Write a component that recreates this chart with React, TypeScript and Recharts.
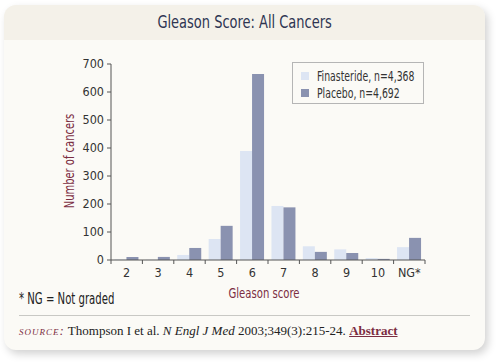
import React from "react";
import { BarChart, Bar, XAxis, YAxis } from "recharts";

const scores = ["2", "3", "4", "5", "6", "7", "8", "9", "10", "NG*"];
const finasteride = [2, 1, 18, 75, 389, 193, 49, 38, 7, 46];
const placebo = [11, 11, 43, 122, 664, 188, 29, 25, 4, 79];
const yTicks = [0, 100, 200, 300, 400, 500, 600, 700];

const data = scores.map((s, i) => ({ score: s, finasteride: finasteride[i], placebo: placebo[i] }));

const SANS = "'DejaVu Sans', sans-serif";
const SERIF = "'Liberation Serif', serif";
const MAROON = "#7b2d42";
const LIGHT = "#dde5f3";
const DARK = "#8a92b0";
const AXIS = "#555";
const narrow: React.CSSProperties = { fontFamily: SANS, fontStretch: "condensed" };

const XTick = (props: any) => {
  const { x, y, payload, index } = props;
  const off = payload?.offset ?? 15.7;
  return (
    <g>
      <line x1={x - off} y1={y} x2={x - off} y2={y + 4} stroke={AXIS} />
      {index === scores.length - 1 && <line x1={x + off} y1={y} x2={x + off} y2={y + 4} stroke={AXIS} />}
      <text x={x} y={y + 17} textAnchor="middle" fontSize={12.5} fill="#333" style={narrow}>
        {payload.value}
      </text>
    </g>
  );
};

export default function App() {
  return (
    <div style={{ position: "absolute", left: 0, top: 0, width: 500, height: 364, background: "#fff" }}>
      <div
        style={{
          position: "absolute",
          left: 4,
          top: 5,
          width: 481,
          height: 345,
          borderRadius: 12,
          background: "#fbfaf6",
          boxShadow: "3px 4px 8px rgba(0,0,0,0.18)",
          overflow: "hidden",
        }}
      >
        <div
          style={{
            ...narrow,
            height: 35,
            background: "#f4f1e9",
            color: "#2e3552",
            fontSize: 17,
            textAlign: "center",
            lineHeight: "35px",
          }}
        >
          <span style={{ display: "inline-block", transform: "scaleX(0.85)" }}>Gleason Score: All Cancers</span>
        </div>
      </div>

      <div style={{ position: "absolute", left: 0, top: 0 }}>
        <BarChart
          width={500}
          height={364}
          data={data}
          margin={{ top: 64, right: 75, bottom: 74, left: 61 }}
          barCategoryGap="11%"
          barGap={0}
        >
          <XAxis
            dataKey="score"
            height={30}
            stroke={AXIS}
            tickLine={false}
            tickSize={0}
            tickMargin={0}
            interval={0}
            tick={<XTick />}
          />
          <YAxis
            width={50}
            domain={[0, 700]}
            ticks={yTicks}
            interval={0}
            stroke={AXIS}
            tickSize={4}
            tickMargin={3}
            tick={{ fontSize: 12.5, fill: "#333", style: narrow }}
          />
          <Bar dataKey="finasteride" fill={LIGHT} isAnimationActive={false} />
          <Bar dataKey="placebo" fill={DARK} isAnimationActive={false} />
        </BarChart>
      </div>

      <div
        style={{
          ...narrow,
          position: "absolute",
          left: 69,
          top: 161,
          transform: "translate(-50%, -50%) rotate(-90deg) scaleX(0.79)",
          whiteSpace: "nowrap",
          fontSize: 14,
          color: MAROON,
        }}
      >
        Number of cancers
      </div>

      <div
        style={{
          ...narrow,
          position: "absolute",
          left: 264,
          top: 293,
          transform: "translate(-50%, -50%) scaleX(0.8)",
          whiteSpace: "nowrap",
          fontSize: 14,
          color: MAROON,
        }}
      >
        Gleason score
      </div>

      <div
        style={{
          ...narrow,
          position: "absolute",
          left: 292,
          top: 62,
          width: 130,
          height: 40,
          border: "1px solid #b5b5b5",
          background: "#fbfaf6",
          fontSize: 14,
          color: "#333",
          whiteSpace: "nowrap",
        }}
      >
        {[
          { label: "Finasteride, n=4,368", color: LIGHT },
          { label: "Placebo, n=4,692", color: DARK },
        ].map((e, i) => (
          <div key={i} style={{ position: "absolute", left: 8, top: 4 + i * 17, height: 17, display: "flex", alignItems: "center" }}>
            <span style={{ width: 8, height: 8, background: e.color, display: "inline-block", marginRight: 8 }} />
            <span style={{ display: "inline-block", transform: "scaleX(0.74)", transformOrigin: "left center" }}>{e.label}</span>
          </div>
        ))}
      </div>

      <div
        style={{
          ...narrow,
          position: "absolute",
          left: 19,
          top: 299,
          transform: "translateY(-50%) scaleX(0.75)",
          transformOrigin: "left center",
          whiteSpace: "nowrap",
          fontSize: 15,
          color: "#222",
        }}
      >
        * NG = Not graded
      </div>

      <div style={{ position: "absolute", left: 19, top: 315, width: 451, height: 1, background: "#c8c8c4" }} />

      <div
        style={{
          position: "absolute",
          left: 19,
          top: 331,
          transform: "translateY(-50%)",
          whiteSpace: "nowrap",
          fontFamily: SERIF,
          fontSize: 13,
          color: "#222",
        }}
      >
        <span style={{ color: MAROON, fontVariant: "small-caps", fontStyle: "italic", letterSpacing: 1, textTransform: "lowercase" }}>
          Source:
        </span>{" "}
        Thompson I et al. <i>N Engl J Med</i> 2003;349(3):215-24.{" "}
        <b style={{ color: MAROON, textDecoration: "underline" }}>Abstract</b>
      </div>
    </div>
  );
}
